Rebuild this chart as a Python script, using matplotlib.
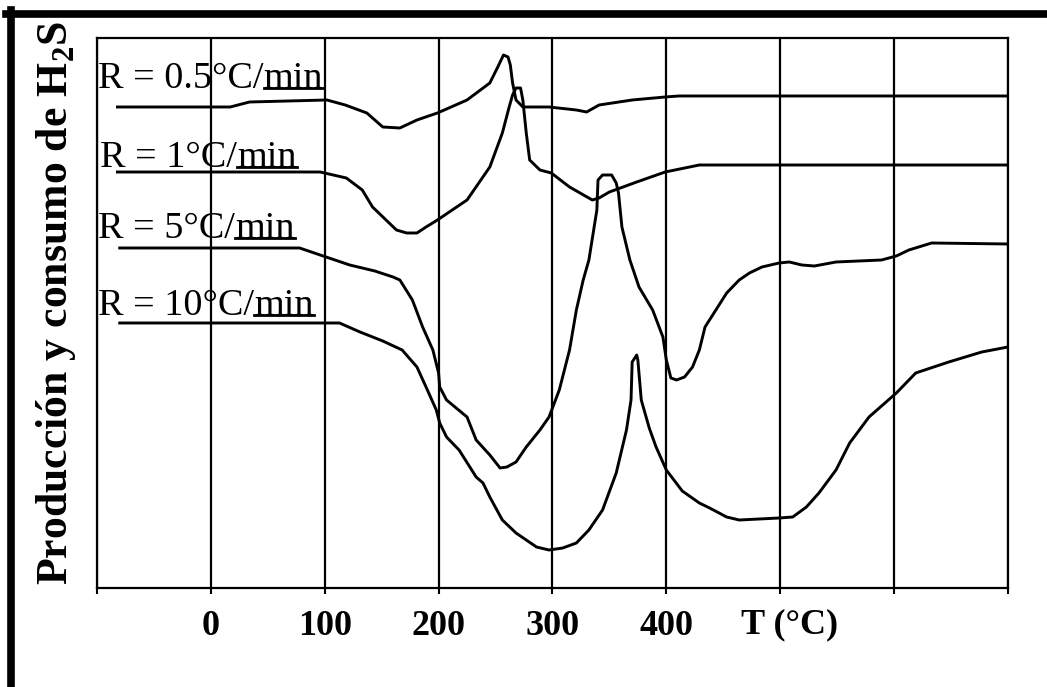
import matplotlib
matplotlib.use("Agg")
import matplotlib.pyplot as plt
from matplotlib.lines import Line2D

plt.rcParams['font.family'] = ['Liberation Serif', 'DejaVu Serif']
plt.rcParams['mathtext.fontset'] = 'custom'
plt.rcParams['mathtext.rm'] = 'Liberation Serif:bold'

# temperatura (C) y senal (u.a.) para cada velocidad de calentamiento
T_05 = [-82, 17, 34, 102, 118, 137, 151, 166, 181, 199, 225, 245, 252, 257, 261, 263, 265, 268, 274,
        297, 321, 330, 341, 370, 399, 411, 700]
s_05 = [483, 483, 488, 490, 485, 477, 463, 462, 470, 477, 490, 507, 523, 535, 533, 525, 507, 490, 483,
        483, 480, 478, 485, 490, 493, 494, 494]

T_1 = [-82, 96, 119, 133, 142, 163, 172, 181, 189, 199, 225, 245, 256, 262, 265, 268, 272, 274, 277, 280,
       289, 299, 315, 335, 341, 350, 374, 399, 429, 700]
s_1 = [418, 418, 412, 400, 383, 360, 357, 357, 363, 370, 390, 423, 457, 483, 495, 502, 502, 490, 457, 430,
       420, 417, 403, 390, 392, 398, 408, 418, 425, 425]

T_5 = [-80, 78, 96, 122, 144, 160, 166, 177, 186, 195, 200, 201, 207, 225, 233, 245, 254, 260, 268, 277,
       289, 297, 306, 315, 321, 327, 332, 339, 340, 344, 352, 356, 358, 361, 368, 376, 388, 397, 400, 404,
       409, 416, 423, 429, 434, 453, 464, 473, 484, 499, 508, 519, 530, 549, 589, 602, 613, 633, 700]
s_5 = [342, 342, 335, 325, 319, 313, 310, 290, 263, 240, 217, 203, 190, 173, 150, 135, 122, 123, 128, 143,
       160, 173, 200, 240, 280, 310, 330, 380, 410, 415, 415, 407, 397, 363, 330, 303, 280, 253, 230, 212,
       210, 213, 223, 240, 263, 297, 310, 317, 323, 327, 328, 325, 324, 328, 330, 334, 340, 347, 346]

T_10 = [-80, 113, 131, 151, 168, 181, 189, 198, 201, 207, 218, 233, 239, 245, 256, 268, 286, 297, 309, 321,
        332, 344, 356, 365, 369, 370, 374, 375, 378, 385, 391, 400, 414, 429, 438, 453, 464, 499, 511, 523,
        534, 549, 561, 578, 602, 619, 648, 677, 700]
s_10 = [267, 267, 258, 249, 240, 223, 203, 180, 167, 153, 140, 113, 107, 93, 70, 57, 43, 40, 42, 47,
        60, 80, 117, 160, 190, 228, 235, 230, 190, 162, 143, 120, 99, 87, 82, 73, 70, 72, 73, 83,
        97, 120, 147, 173, 197, 217, 228, 238, 243]

etiquetas = ["R = 0.5°C/", "R = 1°C/", "R = 5°C/", "R = 10°C/"]
pos_etiq = [(-99, 502), (-97, 423), (-99, 352), (-99, 275)]

xticks = [-100, 0, 100, 200, 300, 400, 500, 600, 700]
xlabels = ["", "0", "100", "200", "300", "400", "", "", ""]

fig = plt.figure(figsize=(10.47, 6.87), dpi=100)
ax = fig.add_axes([0.0926, 0.1441, 0.8701, 0.8006])

for T, s in [(T_05, s_05), (T_1, s_1), (T_5, s_5), (T_10, s_10)]:
    ax.plot(T, s, color='black', lw=2.1, solid_joinstyle='round')

ax.set_xlim(-100, 700)
ax.set_ylim(2, 552)
ax.set_xticks(xticks)
ax.set_xticklabels(xlabels, fontsize=26, fontweight='bold')
ax.set_yticks([])
ax.tick_params(axis='x', direction='out', length=4, width=1.5, pad=12)
ax.grid(axis='x', color='black', lw=1.6)
ax.set_axisbelow(True)
for sp in ax.spines.values():
    sp.set_linewidth(1.6)

# titulo del eje x, a la altura de los numeros
ax.annotate("T (°C)", xy=(508, 0), xycoords=ax.get_xaxis_transform(),
            xytext=(0, -14.5), textcoords='offset points', ha='center', va='top',
            fontsize=26, fontweight='bold')

fig.text(56 / 1047, 1 - 303 / 687, "Producción y consumo de H$_2$S", rotation=90,
         ha='center', va='center', fontsize=31.5, fontweight='bold')

# etiquetas con "min" subrayado
textos_min = []
for txt, (x, y) in zip(etiquetas, pos_etiq):
    t1 = ax.text(x, y, txt, fontsize=27.5, va='baseline', ha='left')
    t2 = ax.annotate("min", xy=(1, 0), xycoords=t1, fontsize=27.5, va='bottom', ha='left')
    textos_min.append((t2, y))

fig.canvas.draw()
inv = ax.transData.inverted()
for t2, y in textos_min:
    bb = t2.get_window_extent()
    x0 = inv.transform((bb.x0, 0))[0]
    x1 = inv.transform((bb.x1, 0))[0]
    ax.plot([x0, x1], [y, y], color='black', lw=2.0, clip_on=False)

# marco de la figura
fig.add_artist(Line2D([0.006, 1.0], [0.9803, 0.9803], color='black', lw=5.5))
fig.add_artist(Line2D([0.0105, 0.0105], [0.0, 0.985], color='black', lw=5.5))

fig.savefig("out.png", dpi=100)
